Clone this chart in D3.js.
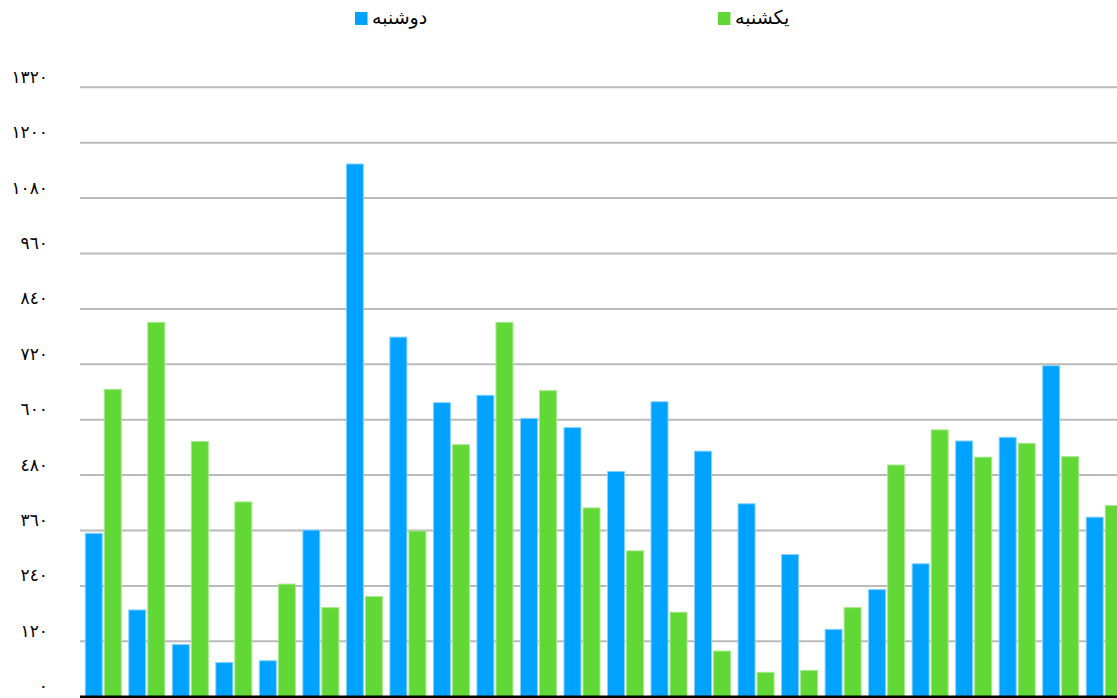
<!DOCTYPE html>
<html>
<head>
<meta charset="utf-8">
<script src="https://cdn.jsdelivr.net/npm/d3@7"></script>
<style>
  html, body { margin: 0; padding: 0; background: #ffffff; overflow: hidden; }
  svg { display: block; }
  text { font-family: "DejaVu Sans", sans-serif; fill: #000; }
</style>
</head>
<body>
<svg id="chart" width="1117" height="698"></svg>
<script>
// Weekly counts per group, two series
const categories = ["1","2","3","4","5","6","7","8","9","10","11","12",
                    "13","14","15","16","17","18","19","20","21","22","23","24"];
const seriesNames = ["دوشنبه", "یکشنبه"];
const mondayValues = [355, 189, 114, 75, 79, 362, 1155, 780, 638, 654, 604, 584,
                      489, 640, 533, 419, 309, 147, 233, 289, 555, 563, 718, 390];
const sundayValues = [667, 812, 554, 423, 245, 194, 218, 360, 547, 812, 664, 410,
                      317, 184, 100, 54, 58, 194, 503, 579, 520, 550, 521, 415];
const tickValues = [0, 120, 240, 360, 480, 600, 720, 840, 960, 1080, 1200, 1320];

const colors = ["#00a2ff", "#61d836"];
const edgeColors = ["#86d2ff", "#a9e88f"];

// Arabic-Indic digits for the axis labels
const arabicDigits = "٠١٢٣٤٥٦٧٨٩";
const toArabic = v => String(v).replace(/[0-9]/g, d => arabicDigits[+d]);

const svg = d3.select("#chart");

const y = d3.scaleLinear().domain([0, 1320]).range([696.7, 87.3]);

const step = 43.52;
const x0 = d3.scaleBand()
  .domain(categories)
  .range([81.5, 81.5 + categories.length * step])
  .paddingInner(0.149)
  .paddingOuter(0.0745);

const x1 = d3.scaleBand()
  .domain(seriesNames)
  .range([0, x0.bandwidth()])
  .paddingInner(0.054);

// Horizontal gridlines
svg.append("g")
  .selectAll("line")
  .data(tickValues.filter(v => v > 0))
  .join("line")
  .attr("x1", 80)
  .attr("x2", 1117)
  .attr("y1", d => y(d))
  .attr("y2", d => y(d))
  .attr("stroke", "#bababa")
  .attr("stroke-width", 2);

// Y axis labels
const yAxis = d3.axisLeft(y)
  .tickValues(tickValues)
  .tickFormat(toArabic)
  .tickSize(0)
  .tickPadding(0);

const yg = svg.append("g")
  .attr("transform", "translate(48,0)")
  .call(yAxis);
yg.select(".domain").remove();
yg.selectAll("text")
  .attr("font-family", "'DejaVu Sans', sans-serif")
  .attr("font-size", 17)
  .attr("fill", "#000")
  .attr("dy", "-0.3em")
  .attr("text-anchor", "end");

// Bars
const rows = categories.map((c, i) => ({
  cat: c,
  values: [mondayValues[i], sundayValues[i]]
}));

const groups = svg.append("g")
  .selectAll("g")
  .data(rows)
  .join("g")
  .attr("transform", d => `translate(${x0(d.cat)},0)`);

groups.selectAll("rect")
  .data(d => d.values.map((v, k) => ({ key: seriesNames[k], value: v, k })))
  .join("rect")
  .attr("x", d => x1(d.key) + 0.5)
  .attr("y", d => y(d.value) + 0.5)
  .attr("width", x1.bandwidth() - 1)
  .attr("height", d => y(0) - y(d.value) - 0.5)
  .attr("fill", d => colors[d.k])
  .attr("stroke", d => edgeColors[d.k])
  .attr("stroke-width", 1);

// Baseline
svg.append("line")
  .attr("x1", 80)
  .attr("x2", 1117)
  .attr("y1", y(0))
  .attr("y2", y(0))
  .attr("stroke", "#000")
  .attr("stroke-width", 2.5);

// Legend
const legendItems = [
  { name: seriesNames[0], color: colors[0], x: 355 },
  { name: seriesNames[1], color: colors[1], x: 718 }
];
const legend = svg.append("g")
  .selectAll("g")
  .data(legendItems)
  .join("g")
  .attr("transform", d => `translate(${d.x},12)`);
legend.append("rect")
  .attr("width", 12.5)
  .attr("height", 13)
  .attr("fill", d => d.color);
legend.append("text")
  .attr("x", 17)
  .attr("y", 12)
  .attr("font-size", 19)
  .attr("text-anchor", "start")
  .attr("direction", "ltr")
  .text(d => d.name);
</script>
</body>
</html>
